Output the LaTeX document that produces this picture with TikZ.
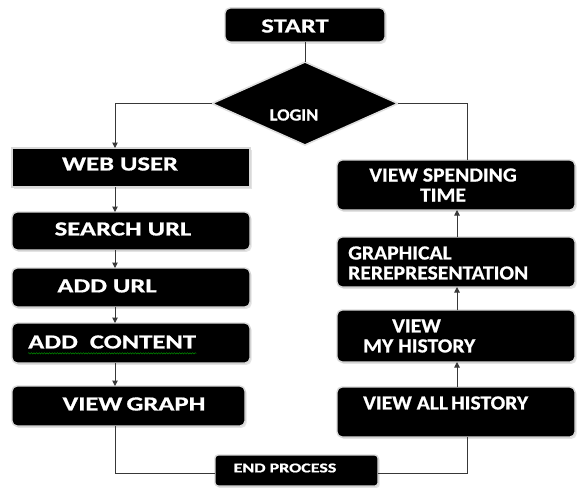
\documentclass[tikz,border=0pt]{standalone}
\usepackage{fontspec}
\usetikzlibrary{shapes.geometric,arrows.meta,shadows,decorations.pathmorphing}
\newfontfamily\wfont{Carlito}[FakeStretch=1.33, FakeBold=0.8]
\newfontfamily\nfont{Carlito}[FakeStretch=1.08, FakeBold=0.8]

\tikzset{
  blk/.style={fill=black, draw=gray!30, line width=1.4pt, rounded corners=5pt,
    inner sep=0pt, outer sep=0pt,
    drop shadow={shadow xshift=1.6pt, shadow yshift=-1.8pt, fill=gray!22, opacity=1}},
  sqblk/.style={blk, sharp corners},
  dia/.style={diamond, fill=black, draw=gray!25, line width=1.6pt, inner sep=0pt, outer sep=0pt},
  wtxt/.style={text=white, inner sep=0pt, font=\wfont\bfseries\fontsize{20}{20}\selectfont},
  ntxt/.style={text=white, inner sep=0pt, font=\nfont\bfseries\fontsize{20}{20}\selectfont},
  ln/.style={draw=black!78, line width=1pt},
  arr/.style={-{Triangle[length=5.5pt,width=5.5pt]}},
}

\begin{document}
\begin{tikzpicture}[x=1pt, y=-1pt]
  \useasboundingbox (0,0) rectangle (577,487);
  \fill[white] (0,0) rectangle (577,487);

  % column guides for the connectors
  \coordinate (lx) at (115,0);
  \coordinate (rx) at (457,0);
  \coordinate (rr) at (467,0);
  \coordinate (ly) at (0,473);

  % boxes
  \node[blk, minimum width=160pt, minimum height=34pt] (start) at (305,25) {};
  \node[dia, minimum width=186pt, minimum height=83pt] (login) at (305,103.5) {};

  \node[sqblk, minimum width=238pt, minimum height=39pt] (web) at (131,167.5) {};
  \node[blk, minimum width=238pt, minimum height=38pt] (search) at (131,231) {};
  \node[blk, minimum width=238pt, minimum height=39pt] (addurl) at (131,287.5) {};
  \node[blk, minimum width=238pt, minimum height=40pt] (content) at (131,343) {};
  \node[blk, minimum width=233pt, minimum height=40pt] (graph) at (128.5,406) {};

  \node[blk, rounded corners=3pt, minimum width=163pt, minimum height=31pt] (endp) at (296.5,470.5) {};

  \node[blk, minimum width=238pt, minimum height=50pt] (spend) at (456,185) {};
  \node[blk, minimum width=238pt, minimum height=50pt] (graphical) at (456,262) {};
  \node[blk, minimum width=238pt, minimum height=52pt] (myhist) at (456,336) {};
  \node[blk, minimum width=238pt, minimum height=50pt] (allhist) at (456,412) {};

  % labels
  \node[wtxt] (t-start) at (295,26) {START};
  \node[ntxt, font=\nfont\bfseries\fontsize{17}{17}\selectfont] (t-login) at (294,115) {LOGIN};
  \node[wtxt] (t-web) at (120,164) {WEB USER};
  \node[wtxt] (t-search) at (123,229) {SEARCH URL};
  \node[wtxt] (t-addurl) at (107,286) {ADD URL};
  \node[wtxt, anchor=west] (t-content) at (28,342) {ADD\ \ CONTENT};
  \node[wtxt] (t-graph) at (134,404) {VIEW\hspace{4pt}GRAPH};
  \node[wtxt, font=\wfont\bfseries\fontsize{13.5}{13.5}\selectfont] (t-endp) at (285,468) {END PROCESS};

  \node[ntxt, align=center] (t-spend) at (443,185) {VIEW SPENDING\\TIME};
  \node[ntxt, align=left, anchor=west] (t-graphical) at (348,263) {GRAPHICAL\\REREPRESENTATION};
  \node[ntxt, align=left, anchor=west] (t-myhist) at (363,336) {\hspace*{29pt}VIEW\\MY HISTORY};
  \node[ntxt, anchor=west] (t-allhist) at (363,403) {VIEW ALL\hspace{3pt}HISTORY};

  % spell-check squiggle under the text
  \draw[green!55!black, line width=0.5pt, decorate,
        decoration={snake, amplitude=0.7pt, segment length=2.6pt}]
    ([yshift=-4.5pt]t-content.south west) -- ([yshift=-4.5pt]t-content.south east);

  % connectors
  \draw[ln] (start.south) -- (login.north);
  \draw[ln, arr] (login.west) -| (web.north -| lx);
  \draw[ln] (login.east) -| (spend.north -| rr);

  \draw[ln, arr] (web.south -| lx) -- (search.north -| lx);
  \draw[ln, arr] (search.south -| lx) -- (addurl.north -| lx);
  \draw[ln, arr] (addurl.south -| lx) -- (content.north -| lx);
  \draw[ln, arr] (content.south -| lx) -- (graph.north -| lx);
  \draw[ln] (graph.south -| lx) |- (ly -| endp.west);

  \draw[ln] (ly -| endp.east) -| (allhist.south -| rr);
  \draw[ln, arr] (allhist.north -| rx) -- (myhist.south -| rx);
  \draw[ln, arr] (myhist.north -| rx) -- (graphical.south -| rx);
  \draw[ln, arr] (graphical.north -| rx) -- (spend.south -| rx);
\end{tikzpicture}
\end{document}
